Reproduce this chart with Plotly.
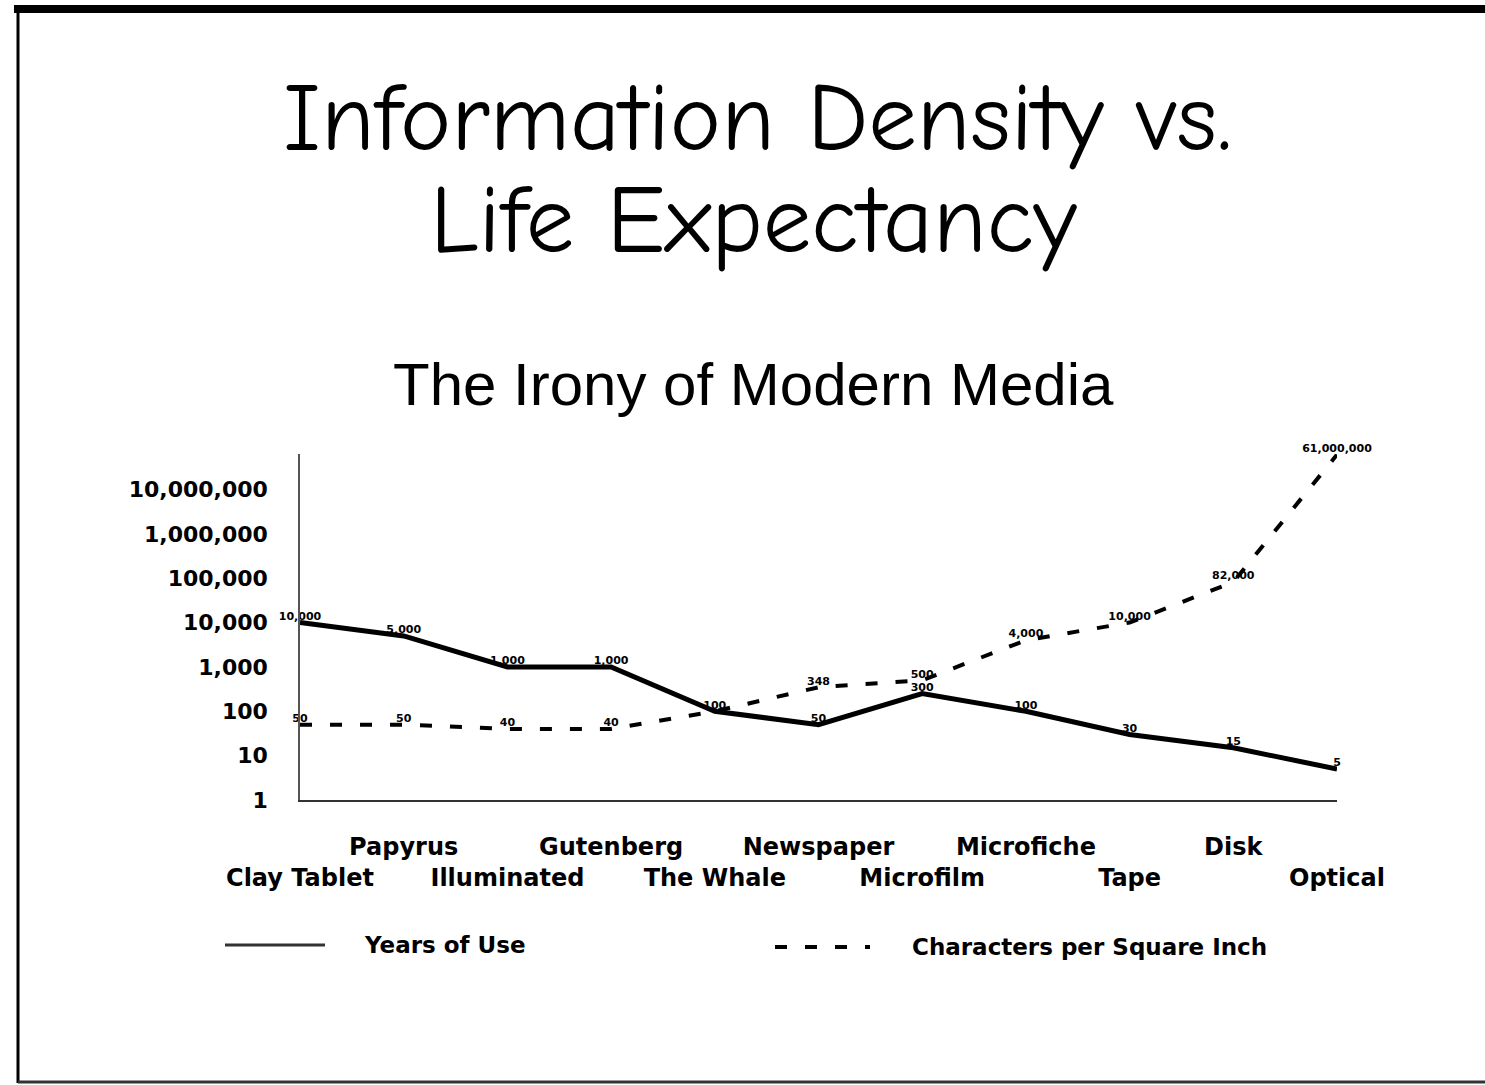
import plotly.graph_objects as go

# ---- data ----
categories = ["Clay Tablet", "Papyrus", "Illuminated", "Gutenberg", "The Whale",
              "Newspaper", "Microfilm", "Microfiche", "Tape", "Disk", "Optical"]
years_of_use = [10000, 5000, 1000, 1000, 100, 50, 250, 100, 30, 15, 5]
years_labels = ["10,000", "5,000", "1,000", "1,000", "100", "50", "300", "100", "30", "15", "5"]
chars_per_sq_inch = [50, 50, 40, 40, 100, 348, 500, 4000, 10000, 82000, 61000000]
chars_labels = ["50", "50", "40", "40", "", "348", "500", "4,000", "10,000", "82,000", "61,000,000"]
y_tickvals = [1, 10, 100, 1000, 10000, 100000, 1000000, 10000000]
y_ticktext = ["1", "10", "100", "1,000", "10,000", "100,000", "1,000,000", "10,000,000"]

W, H = 1485, 1085
L, R, T, B = 300, 148, 454, 285
PW, PH = W - L - R, H - T - B


def px(x):
    return (x - L) / PW


def py(y):
    return (H - B - y) / PH


BOLD = "DejaVu Sans"
fig = go.Figure()
fig.add_trace(go.Scatter(
    x=categories, y=years_of_use, mode="lines+text", text=years_labels,
    textposition="top center", cliponaxis=False,
    textfont=dict(family=BOLD, size=11, color="black", weight="bold"),
    line=dict(color="black", width=5), name="Years of Use"))
fig.add_trace(go.Scatter(
    x=categories, y=chars_per_sq_inch, mode="lines+text", text=chars_labels,
    textposition="top center", cliponaxis=False,
    textfont=dict(family=BOLD, size=11, color="black", weight="bold"),
    line=dict(color="black", width=4, dash="12px,18px"), name="Characters per Square Inch"))

ticktext_x = [c if i % 2 else "<br>" + c for i, c in enumerate(categories)]

fig.update_layout(
    width=W, height=H, margin=dict(l=L, r=R, t=T, b=B),
    paper_bgcolor="white", plot_bgcolor="white", showlegend=False,
    xaxis=dict(type="category", range=[0, len(categories) - 1], showgrid=False,
               zeroline=False, showline=True, linecolor="#333", linewidth=2,
               tickvals=categories, ticktext=ticktext_x, ticks="", tickangle=0,
               ticklabelstandoff=24,
               tickfont=dict(family=BOLD, size=24, color="black", weight="bold")),
    yaxis=dict(type="log", range=[0, 7.8], showgrid=False, zeroline=False,
               showline=True, linecolor="#555", linewidth=1.5,
               tickvals=y_tickvals, ticktext=y_ticktext, ticks="", tickangle=0,
               ticklabelstandoff=26,
               tickfont=dict(family=BOLD, size=22, color="black", weight="bold")),
)

TITLE_FONT = dict(family="Comic Sans MS, Comic Neue, Noto Sans", size=97, color="black")
annotations = [
    dict(text="Information Density vs.", x=px(757), y=py(118),
         xanchor="center", yanchor="middle", showarrow=False, font=TITLE_FONT),
    dict(text="Life Expectancy", x=px(753), y=py(220),
         xanchor="center", yanchor="middle", showarrow=False, font=TITLE_FONT),
    dict(text="The Irony of Modern Media", x=px(753), y=py(384),
         xanchor="center", yanchor="middle", showarrow=False,
         font=dict(family="Liberation Sans, Arial", size=60, color="black")),
    dict(text="Years of Use", x=px(362), y=py(945), xanchor="left", yanchor="middle",
         showarrow=False, font=dict(family=BOLD, size=23, color="black", weight="bold")),
    dict(text="Characters per Square Inch", x=px(910), y=py(947), xanchor="left",
         yanchor="middle", showarrow=False,
         font=dict(family=BOLD, size=23, color="black", weight="bold")),
]
for a in annotations:
    a.update(xref="paper", yref="paper")
fig.update_layout(annotations=annotations)

shapes = [
    dict(type="line", x0=px(225), x1=px(325), y0=py(945), y1=py(945),
         line=dict(color="#333", width=3)),
    dict(type="line", x0=px(775), x1=px(870), y0=py(947), y1=py(947),
         line=dict(color="black", width=4, dash="12px,18px")),
    # frame: top, left, bottom
    dict(type="line", x0=px(14), x1=px(1485), y0=py(9), y1=py(9),
         line=dict(color="black", width=8)),
    dict(type="line", x0=px(18), x1=px(18), y0=py(9), y1=py(1083),
         line=dict(color="black", width=3)),
    dict(type="line", x0=px(18), x1=px(1485), y0=py(1082), y1=py(1082),
         line=dict(color="#333", width=3)),
]
for s in shapes:
    s.update(xref="paper", yref="paper")
fig.update_layout(shapes=shapes)

fig.write_html("out.html", config={"displayModeBar": False},
               post_script="document.body.style.margin='0';document.body.style.overflow='hidden';")
